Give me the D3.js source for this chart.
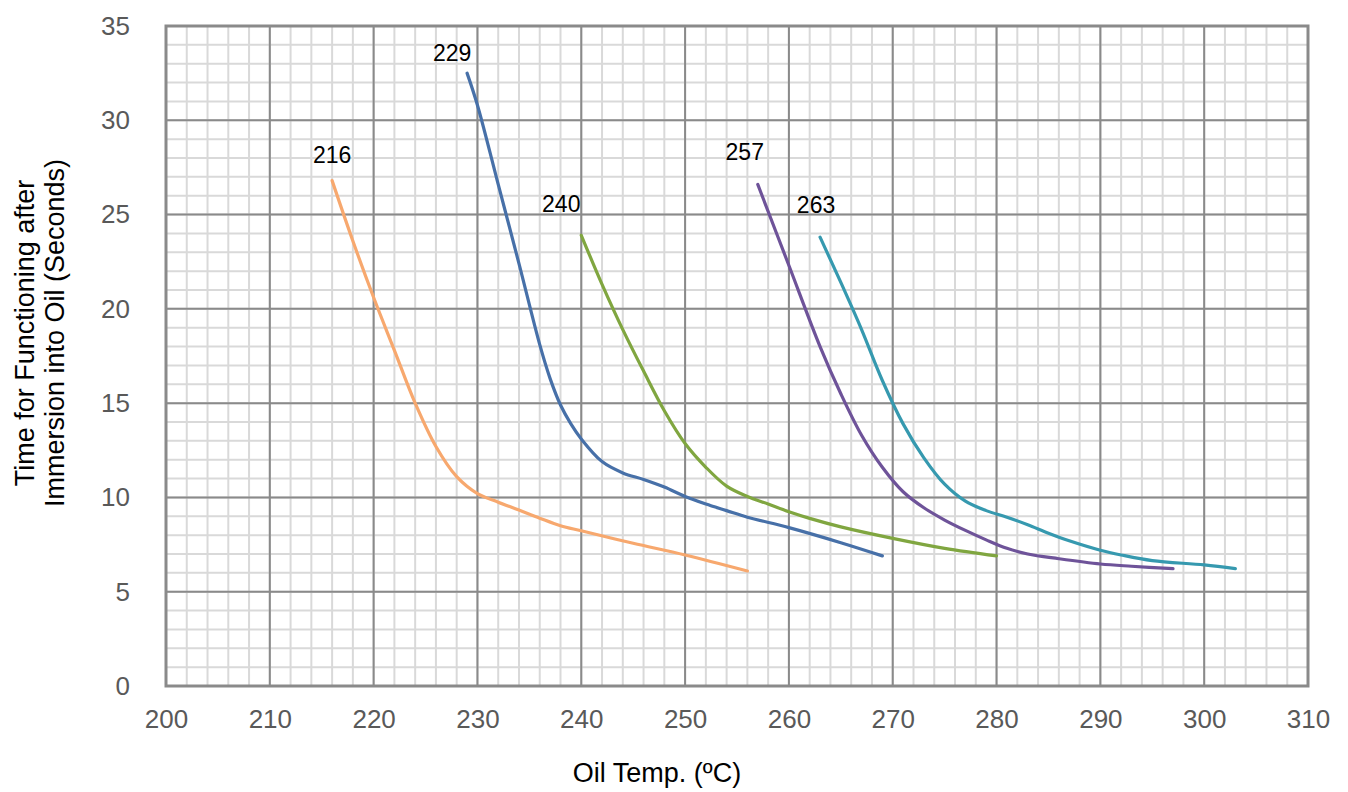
<!DOCTYPE html>
<html><head><meta charset="utf-8">
<script src="https://cdn.jsdelivr.net/npm/d3@7/dist/d3.min.js"></script>
<style>body{margin:0;background:#fff;font-family:"Liberation Sans",Arial,sans-serif}</style>
</head><body><svg id="c" width="1348" height="792"></svg>
<script>
const xTicks = [200,210,220,230,240,250,260,270,280,290,300,310];
const yTicks = [0,5,10,15,20,25,30,35];
const seriesNames = ["216","229","240","257","263"];
const seriesColors = ["#F7A86E","#4770A8","#80A640","#6E5399","#3699AF"];
const s216 = [[216,26.8],[218,23.6],[220,20.6],[222,17.8],[224,15.0],[226,12.7],[228,11.1],[230,10.2],[232,9.75],[234,9.33],[236,8.9],[238,8.5],[240,8.23],[245,7.57],[250,6.95],[256,6.1]];
const s229 = [[229,32.5],[230,30.8],[232,26.6],[234,22.4],[236,18.1],[237,16.3],[238,14.9],[239,13.9],[240,13.1],[242,11.9],[244,11.3],[246,10.95],[248,10.55],[250,10.05],[252,9.65],[254,9.3],[256,8.95],[260,8.4],[265,7.6],[269,6.9]];
const s240 = [[240,23.9],[242,21.3],[244,18.9],[246,16.7],[248,14.6],[250,12.86],[252,11.6],[254,10.6],[256,10.05],[258,9.65],[260,9.24],[262,8.89],[265,8.44],[270,7.83],[275,7.3],[280,6.9]];
const s257 = [[257,26.6],[260,22.3],[263,18.0],[265,15.5],[267,13.3],[269,11.6],[271,10.3],[273,9.45],[275,8.8],[277,8.25],[279,7.75],[281,7.3],[283,7.0],[286,6.75],[290,6.47],[293,6.35],[297,6.22]];
const s263 = [[263,23.8],[265,21.4],[267,18.9],[269,16.2],[271,13.9],[273,12.1],[275,10.7],[277,9.8],[279,9.3],[281,8.95],[283,8.55],[285,8.1],[287,7.7],[290,7.2],[292,6.95],[295,6.65],[300,6.42],[303,6.22]];
const seriesData = [s216,s229,s240,s257,s263];
const labelOffsets = [[0,-18],[-15,-12],[-20,-23],[-13,-24],[-4,-24]];

const svg = d3.select("#c");
const m = {l:166,r:1308,t:26,b:686};
const x = d3.scaleLinear().domain([200,310]).range([m.l,m.r]);
const y = d3.scaleLinear().domain([0,35]).range([m.b,m.t]);

const g = svg.append("g");
g.selectAll(".mx").data(d3.range(200,311,2)).join("line")
  .attr("x1",d=>x(d)).attr("x2",d=>x(d)).attr("y1",m.t).attr("y2",m.b)
  .attr("stroke","#d9d9d9").attr("stroke-width",2);
g.selectAll(".my").data(d3.range(0,36,1)).join("line")
  .attr("y1",d=>y(d)).attr("y2",d=>y(d)).attr("x1",m.l).attr("x2",m.r)
  .attr("stroke","#d9d9d9").attr("stroke-width",2);
g.selectAll(".Mx").data(xTicks).join("line")
  .attr("x1",d=>x(d)).attr("x2",d=>x(d)).attr("y1",m.t).attr("y2",m.b)
  .attr("stroke","#8a8a8a").attr("stroke-width",2);
g.selectAll(".My").data(yTicks).join("line")
  .attr("y1",d=>y(d)).attr("y2",d=>y(d)).attr("x1",m.l).attr("x2",m.r)
  .attr("stroke","#8a8a8a").attr("stroke-width",2);
g.append("rect").attr("x",m.l).attr("y",m.t).attr("width",m.r-m.l).attr("height",m.b-m.t)
  .attr("fill","none").attr("stroke","#8a8a8a").attr("stroke-width",3);

const xa = svg.append("g").attr("transform",`translate(0,${m.b})`)
  .call(d3.axisBottom(x).tickValues(xTicks).tickSize(0).tickPadding(24));
const ya = svg.append("g").attr("transform",`translate(${m.l},0)`)
  .call(d3.axisLeft(y).tickValues(yTicks).tickSize(0).tickPadding(36));
[xa,ya].forEach(a=>{a.select(".domain").remove();
  a.selectAll("text").attr("font-size",26).attr("fill","#595959").attr("font-family","Liberation Sans, Arial, sans-serif");});

const line = d3.line().x(d=>x(d[0])).y(d=>y(d[1])).curve(d3.curveCatmullRom.alpha(0.5));
seriesData.forEach((s,i)=>{
  svg.append("path").attr("d",line(s)).attr("fill","none")
    .attr("stroke",seriesColors[i]).attr("stroke-width",3.2).attr("stroke-linecap","round");
  svg.append("text").attr("x",x(s[0][0])+labelOffsets[i][0]).attr("y",y(s[0][1])+labelOffsets[i][1])
    .attr("text-anchor","middle").attr("font-size",23).attr("fill","#000").text(seriesNames[i]);
});

svg.append("text").attr("x",657).attr("y",782).attr("text-anchor","middle")
  .attr("font-size",27).attr("fill","#000").text("Oil Temp. (ºC)");
const yt = svg.append("text").attr("transform","translate(0,333) rotate(-90)")
  .attr("text-anchor","middle").attr("font-size",27).attr("fill","#000");
yt.append("tspan").attr("x",0).attr("y",34).text("Time for Functioning after");
yt.append("tspan").attr("x",0).attr("y",64).text("Immersion into Oil (Seconds)");
</script></body></html>
